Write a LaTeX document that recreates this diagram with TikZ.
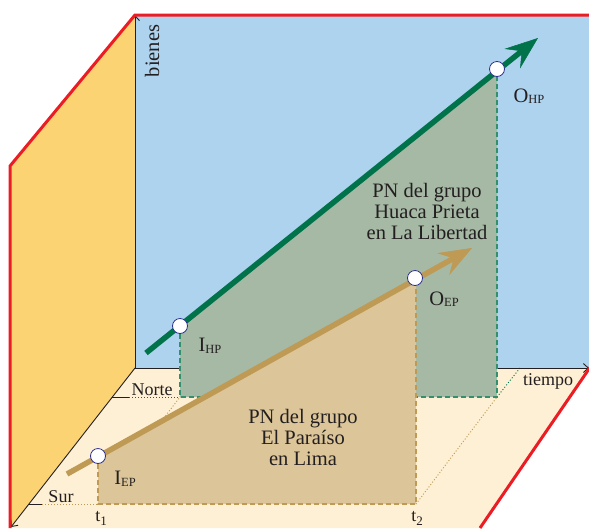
\documentclass[tikz,border=0pt]{standalone}
\usepackage{fontspec}
\setmainfont{Liberation Serif}
\usetikzlibrary{arrows.meta}
\definecolor{wallblue}{HTML}{AED3EF}
\definecolor{wallyellow}{HTML}{FCD372}
\definecolor{floorcream}{HTML}{FEF0D4}
\definecolor{borderred}{HTML}{EC1C24}
\definecolor{greenreg}{HTML}{A6B9A5}
\definecolor{brownreg}{HTML}{DCC598}
\definecolor{greenarrow}{HTML}{00734A}
\definecolor{brownarrow}{HTML}{BE9A54}
\definecolor{ptblue}{HTML}{2E3192}
\definecolor{txt}{HTML}{231F20}
\newcommand{\subsc}[1]{\raisebox{-1.5pt}{\fontsize{12.5}{12.5}\selectfont #1}}
\newcommand{\tsub}[1]{\raisebox{-4pt}{\fontsize{13}{13}\selectfont #1}}
\tikzset{
  axisline/.style={draw=txt, line width=0.9pt, -{Straight Barb[length=5pt,width=9pt]}},
  tickline/.style={draw=txt, line width=0.9pt},
  redborder/.style={draw=borderred, line width=3pt, line join=miter},
  greendot/.style={draw=greenarrow, line width=0.9pt, dash pattern=on 1pt off 2pt},
  browndot/.style={draw=brownarrow, line width=0.9pt, dash pattern=on 1pt off 2pt},
  greendash/.style={draw=greenarrow!80, line width=1.2pt, dash pattern=on 5pt off 3pt},
  browndash/.style={draw=brownarrow, line width=1.2pt, dash pattern=on 5pt off 3pt},
  bigarrow/.style={line width=5.5pt, -{Stealth[length=33pt,width=25pt,inset=12pt,line width=0.5pt]}},
  ptnode/.style={circle, draw=ptblue, fill=white, line width=0.8pt, minimum size=15pt, inner sep=0pt},
  lbl/.style={text=txt, font=\fontsize{20.5}{21}\selectfont, inner sep=0pt},
  floorlbl/.style={text=txt, font=\fontsize{18}{20}\selectfont, inner sep=0pt},
  pnlbl/.style={text=txt, font=\fontsize{20.5}{21}\selectfont, align=center, inner sep=0pt}
}
\begin{document}
\begin{tikzpicture}[x=1pt,y=-1pt]
\useasboundingbox (0,0) rectangle (589,528);
% walls and floor
\fill[wallblue] (135,15) rectangle (589,368);
\fill[wallyellow] (135,15) -- (10,166) -- (10,528) -- (135,368) -- cycle;
\fill[floorcream] (135,368) -- (589,368) -- (590,367) -- (480,528) -- (11,528) -- cycle;
% key points
\coordinate (O) at (135,368);
\coordinate (Ytop) at (135,15);
\coordinate (Xend) at (589,368);
\coordinate (Zend) at (11,527);
\coordinate (NL) at (112,397);
\coordinate (NLb) at (129,397);
\coordinate (SL) at (29,504);
\coordinate (SLb) at (42,504);
\coordinate (T1) at (98,504);
\coordinate (T2) at (416,504);
\coordinate (N1) at (180,397);
\coordinate (N2) at (497,397);
\coordinate (B1) at (202,368);
\coordinate (B2) at (520,368);
\coordinate (IHPc) at (180,326);
\coordinate (OHPc) at (497,69);
\coordinate (IEPc) at (98,456);
\coordinate (OEPc) at (415,278);
\coordinate (OEPf) at (416,278);
\coordinate (GS) at (146,353);
\coordinate (GE) at (538,38);
\coordinate (BS) at (67,474);
\coordinate (BE) at (472,248);
% floor guide lines
\draw[tickline] (NL) -- (NLb);
\draw[greendot] (NLb) -- (N1);
\draw[tickline] (SL) -- (SLb);
\draw[browndot] (SLb) -- (T1);
\draw[browndot] (T1) -- (N1);
\draw[greendot] (N1) -- (B1);
\draw[browndot] (T2) -- (N2);
\draw[greendot] (N2) -- (B2);
% axes
\draw[axisline] (O) -- (Ytop);
\draw[axisline] (O) -- (Xend);
\draw[axisline] (O) -- (Zend);
% green region
\fill[greenreg] (IHPc) -- (OHPc) -- (N2) -- (N1) -- cycle;
\draw[greendash] (IHPc) -- (N1) -- (N2) -- (OHPc);
% brown region
\fill[brownreg] (IEPc) -- (OEPf) -- (T2) -- (T1) -- cycle;
\draw[browndash] (IEPc) -- (T1) -- (T2) -- (OEPf);
% big arrows
\draw[bigarrow, greenarrow] (GS) -- (GE);
\draw[bigarrow, brownarrow] (BS) -- (BE);
% points
\node[ptnode] (IHP) at (IHPc) {};
\node[ptnode] (OHP) at (OHPc) {};
\node[ptnode] (IEP) at (IEPc) {};
\node[ptnode] (OEP) at (OEPc) {};
% labels
\node[lbl, rotate=90] (bienes) at (152,51) {bienes};
\node[floorlbl] (tiempo) at (548,381) {tiempo};
\node[floorlbl] (norte) at (152,390) {Norte};
\node[floorlbl] (sur) at (61,497) {Sur};
\node[floorlbl] (t1) at (101,518) {t\tsub{1}};
\node[floorlbl] (t2) at (417,518) {t\tsub{2}};
\node[lbl] (lIHP) at (210,346) {I\subsc{HP}};
\node[lbl] (lOHP) at (529,96) {O\subsc{HP}};
\node[lbl] (lIEP) at (125,479) {I\subsc{EP}};
\node[lbl] (lOEP) at (444,299) {O\subsc{EP}};
\node[pnlbl] (pnhp) at (427,211) {PN del grupo\\Huaca Prieta\\en La Libertad};
\node[pnlbl] (pnep) at (303,437) {PN del grupo\\El Paraíso\\en Lima};
% red borders
\draw[redborder] (589,15) -- (135,15) -- (10,166) -- (10,528);
\draw[redborder] (591,366) -- (480,528);
\end{tikzpicture}
\end{document}
